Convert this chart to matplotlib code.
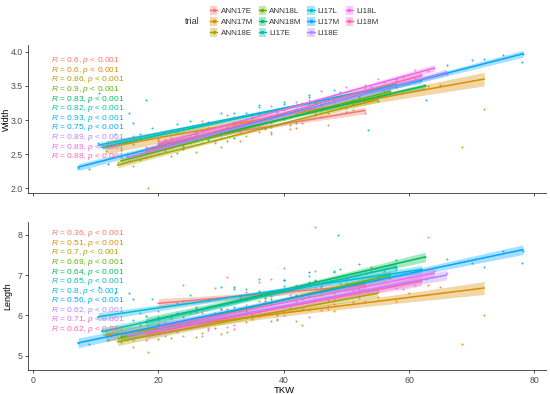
import numpy as np
import matplotlib
matplotlib.use("Agg")
import matplotlib.pyplot as plt
from matplotlib.patches import Patch
from matplotlib.lines import Line2D

plt.rcParams["font.family"] = ["Liberation Sans", "DejaVu Sans"]
plt.rcParams["mathtext.fontset"] = "custom"
plt.rcParams["mathtext.rm"] = "Liberation Sans"
plt.rcParams["mathtext.it"] = "Liberation Sans:italic"

trials = ["ANN17E", "ANN17M", "ANN18E", "ANN18L", "ANN18M", "LI17E",
          "LI17L", "LI17M", "LI18E", "LI18L", "LI18M"]
colors = ["#F8766D", "#DB8E00", "#AEA200", "#64B200", "#00BD5C", "#00C1A7",
          "#00BADE", "#00A6FF", "#B385FF", "#EF67EB", "#FF63B6"]

# ---- scatter points (TKW, Width, Length) per trial, read approximately ----
ANN17E_tkw = [20, 24, 27, 29, 31, 33, 34, 35, 36, 37, 38, 39, 40, 41, 42, 43, 45, 47, 50, 53]
ANN17E_width = [2.69, 2.62, 2.85, 2.66, 2.84, 2.69, 2.99, 2.91, 2.82, 3.00, 2.80, 2.93, 3.01, 2.87, 3.13, 2.95, 3.08, 2.92, 3.18, 3.11]
ANN17E_length = [6.10, 6.75, 6.05, 6.67, 6.95, 6.18, 6.59, 6.05, 6.82, 6.43, 6.90, 6.31, 7.17, 6.19, 6.75, 6.41, 7.09, 6.17, 6.91, 6.70]

ANN17M_tkw = [11.6, 16, 19, 22, 25, 27, 29, 31, 33, 35, 37, 39, 41, 43, 45, 48, 52, 55, 58, 60, 63, 65, 68.4, 72]
ANN17M_width = [2.55, 2.77, 2.60, 2.85, 2.67, 2.98, 2.83, 3.07, 2.85, 3.03, 2.88, 3.15, 3.06, 3.25, 3.07, 3.26, 3.37, 3.38, 3.49, 3.45, 3.50, 3.52, 2.60, 3.16]
ANN17M_length = [5.61, 5.40, 5.90, 5.61, 6.07, 5.56, 6.00, 5.59, 6.12, 5.91, 6.35, 5.89, 6.18, 5.77, 6.41, 6.12, 6.49, 6.45, 6.36, 6.55, 6.75, 6.70, 5.30, 6.00]

ANN18E_tkw = [13.5, 15, 16, 18.3, 20, 22, 24, 26, 28, 30, 32, 34, 36, 38, 40, 42, 44, 46, 48, 51, 55]
ANN18E_width = [2.38, 2.50, 2.32, 2.00, 2.59, 2.48, 2.70, 2.53, 2.73, 2.60, 2.86, 2.77, 3.00, 2.82, 3.01, 2.89, 3.15, 3.04, 3.22, 3.14, 3.33]
ANN18E_length = [5.45, 5.59, 5.22, 5.10, 5.79, 5.45, 5.95, 5.46, 5.92, 5.53, 6.09, 5.84, 6.35, 5.86, 6.22, 5.87, 6.48, 6.14, 6.55, 6.33, 6.60]

ANN18L_tkw = [14, 17, 20, 23, 25, 27, 29, 31, 33, 35, 37, 39, 41, 43, 45, 47, 49, 51, 54, 57]
ANN18L_width = [2.46, 2.42, 2.64, 2.52, 2.78, 2.67, 2.84, 2.69, 2.90, 3.03, 2.88, 3.08, 2.92, 3.13, 3.25, 3.10, 3.29, 3.23, 3.42, 3.40]
ANN18L_length = [5.35, 5.76, 5.42, 6.07, 5.70, 6.17, 5.69, 6.16, 6.48, 6.01, 6.43, 6.00, 6.62, 6.40, 6.87, 6.39, 6.81, 6.63, 7.09, 6.95]

ANN18M_tkw = [18, 21, 24, 26, 28, 30, 32, 34, 36, 38, 40, 42, 44, 46, 48, 50, 52, 55, 58, 62.6]
ANN18M_width = [2.51, 2.70, 2.58, 2.84, 2.70, 2.91, 2.73, 2.96, 3.07, 2.90, 3.07, 2.96, 3.22, 3.10, 3.28, 3.12, 3.35, 3.28, 3.50, 3.52]
ANN18M_length = [5.99, 5.75, 6.36, 5.88, 6.40, 6.17, 6.70, 6.12, 6.59, 6.41, 6.88, 6.51, 7.08, 6.50, 7.07, 6.89, 7.27, 6.93, 7.38, 7.45]

LI17E_tkw = [11, 14, 17, 20, 23, 26, 28, 30, 32, 34, 36, 38, 40, 42, 44, 46, 48, 51, 54, 58]
LI17E_width = [2.65, 2.56, 2.80, 2.72, 2.94, 2.80, 2.97, 2.85, 3.11, 3.02, 3.22, 3.06, 3.23, 3.10, 3.34, 3.24, 3.44, 3.30, 3.49, 3.52]
LI17E_length = [5.65, 5.50, 6.05, 5.76, 6.31, 5.81, 6.38, 6.15, 6.66, 6.13, 6.60, 6.32, 6.89, 6.31, 6.82, 6.74, 7.11, 6.76, 7.21, 7.15]

LI17L_tkw = [10.4, 13, 16, 19, 22, 25, 28, 30, 32, 34, 36, 38, 40, 42, 44, 46, 49, 52, 56, 62]
LI17L_width = [2.67, 2.80, 2.65, 2.89, 2.74, 2.98, 2.89, 3.11, 2.92, 3.11, 3.19, 3.06, 3.27, 3.16, 3.36, 3.20, 3.41, 3.34, 3.55, 3.58]
LI17L_length = [5.97, 6.55, 5.90, 6.42, 5.93, 6.50, 6.22, 6.71, 6.21, 6.66, 6.90, 6.30, 6.74, 6.49, 6.98, 6.68, 7.15, 6.66, 7.10, 7.14]

LI17M_tkw = [7.2, 9, 10.5, 12, 15.3, 16, 18, 20, 22, 26, 30, 33, 36, 39, 42, 45, 48.6, 53.4, 58, 62.8, 66, 70, 72, 75, 78, 78.2]
LI17M_width = [2.30, 2.28, 3.40, 2.35, 3.10, 2.96, 3.30, 2.50, 2.60, 2.82, 2.80, 2.98, 2.92, 3.12, 3.08, 3.26, 3.22, 2.85, 3.60, 3.30, 3.80, 3.88, 3.90, 3.95, 3.85, 3.97]
LI17M_length = [5.32, 5.30, 6.70, 5.40, 6.56, 6.40, 5.60, 5.95, 5.70, 6.20, 5.90, 6.45, 6.10, 6.60, 6.30, 6.85, 8.00, 6.60, 7.20, 6.90, 7.40, 7.30, 7.20, 7.60, 7.30, 7.60]

LI18E_tkw = [15, 18, 21, 24, 27, 29, 31, 33, 35, 37, 39, 41, 43, 45, 47, 50, 53, 57, 61, 66]
LI18E_width = [2.48, 2.44, 2.70, 2.62, 2.86, 2.69, 2.90, 2.82, 3.05, 2.87, 3.12, 3.05, 3.24, 3.10, 3.28, 3.25, 3.47, 3.43, 3.62, 3.68]
LI18E_length = [5.40, 5.84, 5.48, 6.06, 5.50, 6.06, 5.72, 6.38, 5.99, 6.35, 5.91, 6.51, 6.17, 6.68, 6.24, 6.63, 6.37, 6.94, 6.75, 7.05]

LI18L_tkw = [20, 23, 26, 28, 30, 32, 34, 36, 38, 40, 42, 44, 46, 48, 50, 52, 55, 58, 61, 64, 45, 63]
LI18L_width = [2.60, 2.81, 2.70, 2.97, 2.83, 3.04, 2.88, 3.11, 3.20, 3.07, 3.26, 3.15, 3.43, 3.30, 3.49, 3.37, 3.60, 3.57, 3.73, 3.76, 3.30, 3.72]
LI18L_length = [5.90, 5.59, 6.18, 5.70, 6.16, 5.77, 6.38, 6.09, 6.60, 6.11, 6.47, 6.14, 6.70, 6.41, 6.92, 6.43, 6.87, 6.67, 7.11, 7.10, 8.20, 7.95]

LI18M_tkw = [18, 21, 24, 26, 28, 30, 32, 34, 36, 38, 40, 42, 44, 46, 48, 50, 53, 56, 59, 62]
LI18M_width = [2.61, 2.54, 2.81, 2.69, 2.89, 2.73, 2.97, 2.90, 3.12, 2.95, 3.14, 3.07, 3.30, 3.14, 3.36, 3.31, 3.51, 3.43, 3.63, 3.66]
LI18M_length = [5.40, 5.84, 5.48, 6.09, 5.65, 6.05, 5.66, 6.27, 5.98, 6.49, 6.00, 6.36, 5.97, 6.58, 6.29, 6.80, 6.33, 6.82, 6.66, 6.85]

# ---- fitted regression lines ----
fit_x0 = [20, 11.6, 13.5, 14, 18, 11, 10.4, 7.2, 15, 20, 18]
fit_x1 = [53, 72, 55, 57, 62.6, 58, 62, 78.2, 66, 64, 62]
width_fit0 = [2.64, 2.60, 2.34, 2.40, 2.55, 2.60, 2.63, 2.31, 2.45, 2.65, 2.55]
width_fit1 = [3.14, 3.60, 3.30, 3.42, 3.50, 3.52, 3.58, 3.97, 3.70, 3.76, 3.65]
length_fit0 = [6.30, 5.51, 5.35, 5.45, 5.84, 5.60, 5.97, 5.32, 5.50, 5.70, 5.55]
length_fit1 = [6.75, 6.68, 6.55, 7.00, 7.45, 7.20, 7.14, 7.63, 7.00, 7.05, 6.85]
width_ci = [0.05, 0.10, 0.04, 0.04, 0.04, 0.04, 0.04, 0.05, 0.05, 0.05, 0.05]
length_ci = [0.12, 0.16, 0.10, 0.10, 0.12, 0.10, 0.10, 0.12, 0.12, 0.12, 0.12]

r_width = ["0.6", "0.6", "0.86", "0.9", "0.83", "0.82", "0.93", "0.75", "0.89", "0.89", "0.88"]
r_length = ["0.36", "0.51", "0.7", "0.69", "0.64", "0.65", "0.8", "0.56", "0.62", "0.71", "0.62"]

data = {
    "ANN17E": (ANN17E_tkw, ANN17E_width, ANN17E_length),
    "ANN17M": (ANN17M_tkw, ANN17M_width, ANN17M_length),
    "ANN18E": (ANN18E_tkw, ANN18E_width, ANN18E_length),
    "ANN18L": (ANN18L_tkw, ANN18L_width, ANN18L_length),
    "ANN18M": (ANN18M_tkw, ANN18M_width, ANN18M_length),
    "LI17E": (LI17E_tkw, LI17E_width, LI17E_length),
    "LI17L": (LI17L_tkw, LI17L_width, LI17L_length),
    "LI17M": (LI17M_tkw, LI17M_width, LI17M_length),
    "LI18E": (LI18E_tkw, LI18E_width, LI18E_length),
    "LI18L": (LI18L_tkw, LI18L_width, LI18L_length),
    "LI18M": (LI18M_tkw, LI18M_width, LI18M_length),
}

fig = plt.figure(figsize=(5.5, 3.94), dpi=100)
ax1 = fig.add_axes([0.051, 0.510, 0.942, 0.376])
ax2 = fig.add_axes([0.051, 0.061, 0.942, 0.376])

def style(ax):
    for s in ["top", "right"]:
        ax.spines[s].set_visible(False)
    for s in ["left", "bottom"]:
        ax.spines[s].set_color("#333333")
        ax.spines[s].set_linewidth(0.6)
    ax.tick_params(axis="both", length=2.5, width=0.6, color="#333333",
                   labelsize=6.3, labelcolor="#4d4d4d", pad=1.5)

for ax, idx, fit0, fit1, ci in [
        (ax1, 1, width_fit0, width_fit1, width_ci),
        (ax2, 2, length_fit0, length_fit1, length_ci)]:
    style(ax)
    for i, t in enumerate(trials):
        tk, w, l = data[t]
        yv = w if idx == 1 else l
        ax.scatter(tk, yv, s=2.2, color=colors[i], alpha=0.85, linewidths=0, zorder=2)
    for i, t in enumerate(trials):
        xs = np.linspace(fit_x0[i], fit_x1[i], 60)
        ys = fit0[i] + (fit1[i] - fit0[i]) * (xs - fit_x0[i]) / (fit_x1[i] - fit_x0[i])
        xc = 0.5 * (fit_x0[i] + fit_x1[i])
        h = 0.5 * (fit_x1[i] - fit_x0[i])
        hw = ci[i] * np.sqrt(0.25 + 0.75 * ((xs - xc) / h) ** 2)
        ax.fill_between(xs, ys - hw, ys + hw, color=colors[i], alpha=0.35, linewidth=0, zorder=3)
        ax.plot(xs, ys, color=colors[i], lw=1.1, zorder=4)
    ax.set_xlim(-0.8, 81.9)
    ax.set_xticks([0, 20, 40, 60, 80])

ax1.set_ylim(1.93, 4.10)
ax1.set_yticks([2.0, 2.5, 3.0, 3.5, 4.0])
ax1.set_yticklabels(["2.0", "2.5", "3.0", "3.5", "4.0"])
ax1.set_xticklabels([])
ax1.set_ylabel("Width", fontsize=6.5, color="black", va="center")
ax1.yaxis.set_label_coords(-0.042, 0.5)

ax2.set_ylim(4.65, 8.32)
ax2.set_yticks([5, 6, 7, 8])
ax2.set_ylabel("Length", fontsize=6.5, color="black", va="center")
ax2.yaxis.set_label_coords(-0.040, 0.5)
ax2.set_xlabel("TKW", fontsize=6.8, color="black")
ax2.xaxis.set_label_coords(0.495, -0.105)

# correlation labels
for i in range(len(trials)):
    ax1.text(2.9, 3.87 - 0.141 * i, r"$\it{R}$ = " + r_width[i] + r", $\it{p}$ < 0.001",
             color=colors[i], fontsize=6, va="center", ha="left", zorder=5)
    ax2.text(2.9, 8.02 - 0.236 * i, r"$\it{R}$ = " + r_length[i] + r", $\it{p}$ < 0.001",
             color=colors[i], fontsize=6, va="center", ha="left", zorder=5)

# legend
handles = []
for i, t in enumerate(trials):
    handles.append((Patch(facecolor=colors[i], alpha=0.35, edgecolor="none"),
                    Line2D([], [], color=colors[i], lw=1.0, marker="o", markersize=1.5)))
leg = fig.legend(handles, trials, loc="center", bbox_to_anchor=(0.535, 0.945),
                 ncol=4, fontsize=5.8, frameon=False, handlelength=0.9,
                 handleheight=1.3, columnspacing=0.7, labelspacing=0.25,
                 handletextpad=0.4, borderpad=0.1)
for txt in leg.get_texts():
    txt.set_color("#333333")
fig.text(0.350, 0.945, "trial", fontsize=6.5, va="center", ha="center", color="#333333")

fig.savefig("out.png", dpi=100)
